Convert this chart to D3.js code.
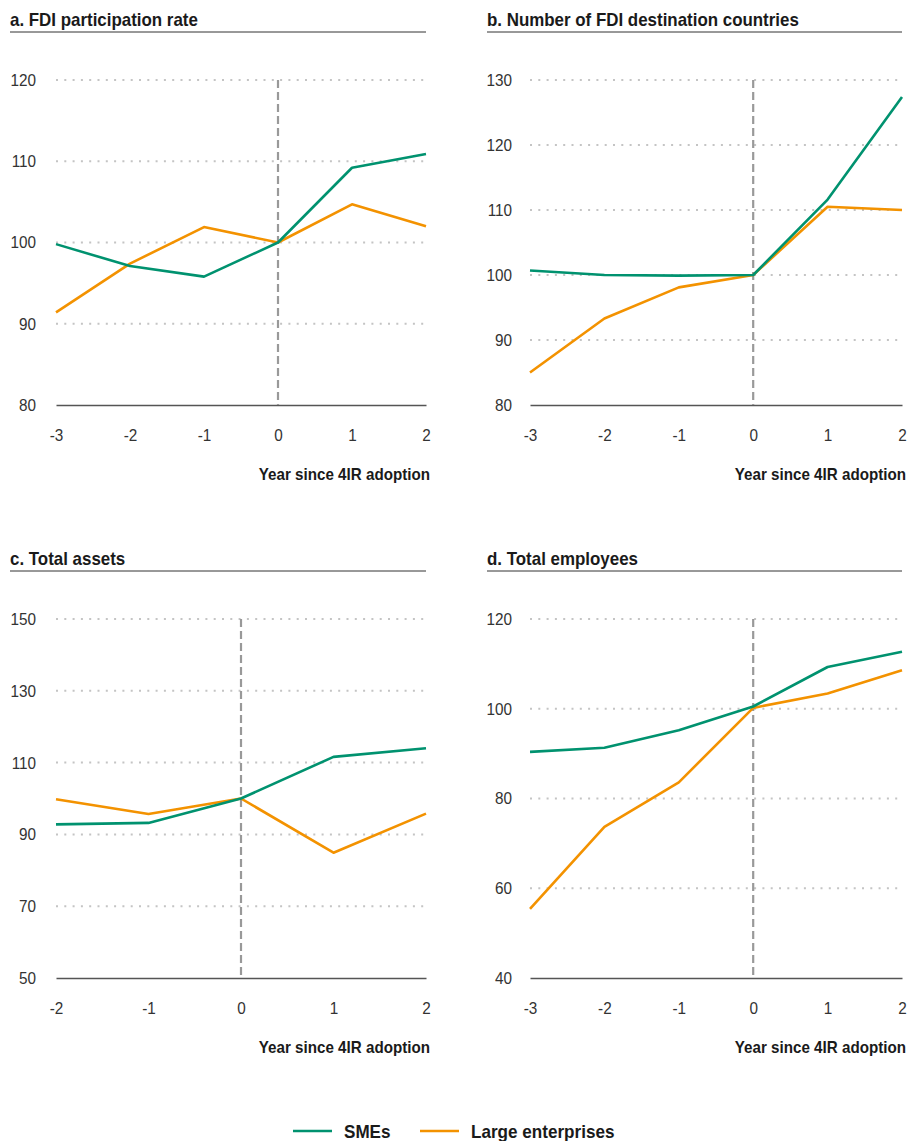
<!DOCTYPE html>
<html>
<head>
<meta charset="utf-8">
<script src="https://cdn.jsdelivr.net/npm/d3@7/dist/d3.min.js"></script>
<style>
  html, body { margin: 0; padding: 0; background: #fff; }
  svg { display: block; }
</style>
</head>
<body>
<svg id="chart" width="907" height="1141"></svg>
<script>
// Index values (adoption year = 100)
const yearsA = [-3, -2, -1, 0, 1, 2];
const smeA   = [99.8, 97.1, 95.8, 100, 109.2, 110.9];
const largeA = [91.4, 97.4, 101.9, 100, 104.7, 102.0];

const yearsB = [-3, -2, -1, 0, 1, 2];
const smeB   = [100.7, 100.0, 99.9, 100, 111.6, 127.4];
const largeB = [85.0, 93.3, 98.1, 100, 110.5, 110.0];

const yearsC = [-2, -1, 0, 1, 2];
const smeC   = [92.8, 93.2, 100, 111.6, 114.0];
const largeC = [99.8, 95.7, 100, 84.9, 95.8];

const yearsD = [-3, -2, -1, 0, 1, 2];
const smeD   = [90.4, 91.3, 95.2, 100.5, 109.3, 112.7];
const largeD = [55.4, 73.7, 83.6, 100.2, 103.4, 108.6];

const ticksA = [80, 90, 100, 110, 120];
const ticksB = [80, 90, 100, 110, 120, 130];
const ticksC = [50, 70, 90, 110, 130, 150];
const ticksD = [40, 60, 80, 100, 120];

const titles = [
  "a. FDI participation rate",
  "b. Number of FDI destination countries",
  "c. Total assets",
  "d. Total employees"
];
const xAxisTitle = "Year since 4IR adoption";
const seriesNames = ["SMEs", "Large enterprises"];
const colors = ["#00926f", "#f39200"];

const svg = d3.select("#chart");
const FONT = '"Liberation Sans", Arial, Helvetica, sans-serif';

// narrow a text horizontally, keeping its anchor point in place
function squeeze(sel, k) {
  sel.each(function () {
    const t = d3.select(this);
    const x = +t.attr("x") || 0;
    t.attr("x", x / k).attr("transform", `scale(${k},1)`);
  });
}

function panel(cfg) {
  const g = svg.append("g");
  const x = d3.scaleLinear().domain(d3.extent(cfg.years)).range([cfg.x0, cfg.x1]);
  const y = d3.scaleLinear().domain(d3.extent(cfg.ticks)).range([cfg.yb, cfg.yt]);

  // title + rule
  g.append("text")
    .attr("x", cfg.tx).attr("y", cfg.yt - 54)
    .attr("font-family", FONT)
    .attr("font-weight", "bold").attr("font-size", 18).attr("fill", "#1a1a1a")
    .text(cfg.title)
    .call(squeeze, 0.94);
  g.append("line")
    .attr("x1", cfg.tx).attr("x2", cfg.x1)
    .attr("y1", cfg.yt - 48).attr("y2", cfg.yt - 48)
    .attr("stroke", "#333").attr("stroke-width", 1);

  // dotted gridlines (all except the baseline)
  g.append("g").selectAll("line")
    .data(cfg.ticks.slice(1))
    .join("line")
    .attr("x1", cfg.x0).attr("x2", cfg.x1)
    .attr("y1", d => y(d)).attr("y2", d => y(d))
    .attr("stroke", "#c4c4c4").attr("stroke-width", 2)
    .attr("stroke-dasharray", "2,6.3");

  // y axis labels
  const yAxis = d3.axisLeft(y).tickValues(cfg.ticks).tickSize(0).tickPadding(cfg.x0 - cfg.lx);
  const ya = g.append("g").attr("transform", `translate(${cfg.x0},0)`).call(yAxis);
  ya.select(".domain").remove();
  ya.selectAll("text")
    .attr("font-family", FONT)
    .attr("font-size", 17).attr("fill", "#333")
    .call(squeeze, 0.9);

  // x axis
  const xAxis = d3.axisBottom(x).tickValues(cfg.years).tickSize(0).tickPadding(24)
    .tickFormat(d => String(d));
  const xa = g.append("g").attr("transform", `translate(0,${cfg.yb})`).call(xAxis);
  xa.select(".domain").attr("stroke", "#555").attr("stroke-width", 1.5);
  xa.selectAll("text")
    .attr("font-family", FONT)
    .attr("font-size", 17).attr("fill", "#333")
    .call(squeeze, 0.9);

  g.append("text")
    .attr("x", cfg.x1 + 4).attr("y", cfg.yb + 75)
    .attr("text-anchor", "end")
    .attr("font-family", FONT)
    .attr("font-weight", "bold").attr("font-size", 16.5).attr("fill", "#1a1a1a")
    .text(xAxisTitle)
    .call(squeeze, 0.92);

  // adoption year marker
  g.append("line")
    .attr("x1", x(0)).attr("x2", x(0))
    .attr("y1", cfg.yt).attr("y2", cfg.yb)
    .attr("stroke", "#999").attr("stroke-width", 2.2)
    .attr("stroke-dasharray", "8,4");

  const line = d3.line().x((d, i) => x(cfg.years[i])).y(d => y(d));
  // large enterprises first, SMEs on top
  [[cfg.large, colors[1]], [cfg.sme, colors[0]]].forEach(([vals, c]) => {
    g.append("path")
      .datum(vals)
      .attr("d", line)
      .attr("fill", "none")
      .attr("stroke", c)
      .attr("stroke-width", 2.6)
      .attr("stroke-linejoin", "round");
  });
}

panel({ title: titles[0], years: yearsA, sme: smeA, large: largeA, ticks: ticksA,
        tx: 10, lx: 36, x0: 56, x1: 426, yt: 80, yb: 405 });
panel({ title: titles[1], years: yearsB, sme: smeB, large: largeB, ticks: ticksB,
        tx: 487, lx: 512, x0: 530, x1: 902, yt: 80, yb: 405 });
panel({ title: titles[2], years: yearsC, sme: smeC, large: largeC, ticks: ticksC,
        tx: 10, lx: 36, x0: 56, x1: 426, yt: 619, yb: 978 });
panel({ title: titles[3], years: yearsD, sme: smeD, large: largeD, ticks: ticksD,
        tx: 487, lx: 512, x0: 530, x1: 902, yt: 619, yb: 978 });

// legend
const legendItems = [
  { name: seriesNames[0], color: colors[0], x: 293 },
  { name: seriesNames[1], color: colors[1], x: 420 }
];
const lg = svg.append("g");
legendItems.forEach(it => {
  lg.append("line")
    .attr("x1", it.x).attr("x2", it.x + 39)
    .attr("y1", 1131).attr("y2", 1131)
    .attr("stroke", it.color).attr("stroke-width", 2.6);
  lg.append("text")
    .attr("x", it.x + 51).attr("y", 1138)
    .attr("font-family", FONT)
    .attr("font-weight", "bold").attr("font-size", 18).attr("fill", "#1a1a1a")
    .text(it.name)
    .call(squeeze, 0.95);
});
</script>
</body>
</html>
